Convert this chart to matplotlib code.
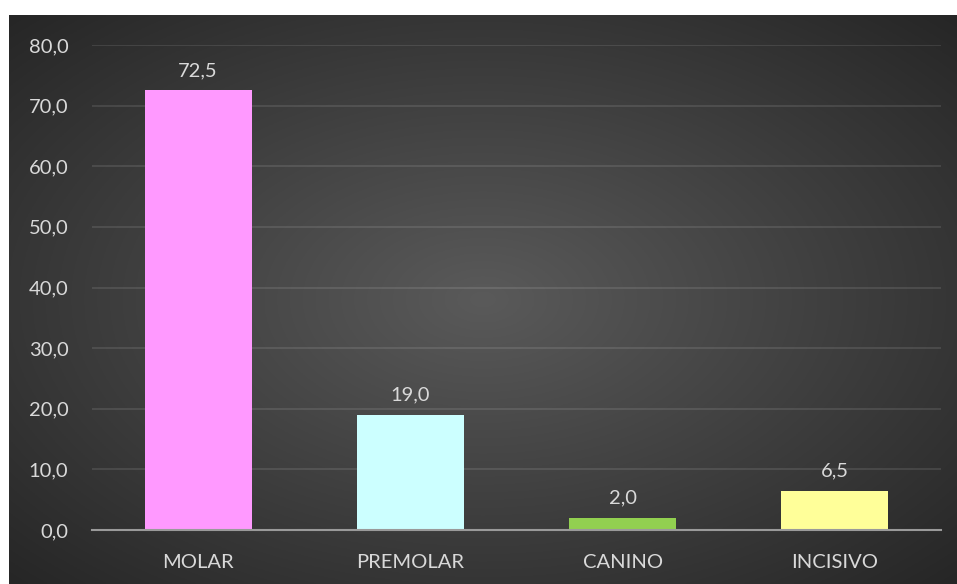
import numpy as np
import matplotlib.pyplot as plt
from matplotlib.ticker import FuncFormatter

categories = ['MOLAR', 'PREMOLAR', 'CANINO', 'INCISIVO']
values = [72.5, 19.0, 2.0, 6.5]
colors = ['#FF99FF', '#CCFFFF', '#92D050', '#FFFF99']
yticks = [0, 10, 20, 30, 40, 50, 60, 70, 80]

plt.rcParams['font.family'] = ['Lato', 'DejaVu Sans']
txt = '#D9D9D9'

W, H = 957, 584
fig = plt.figure(figsize=(W / 100, H / 100), dpi=100, facecolor='white')

# radial gradient background
bg = fig.add_axes([9 / W, 0, 1 - 9 / W, (H - 15) / H])
yy, xx = np.mgrid[0:1:300j, 0:1:500j]
r = np.sqrt(((xx - 0.5) / 0.5) ** 2 + ((yy - 0.5) / 0.5) ** 2)
r = np.clip(r / 1.414, 0, 1)
shade = 0x5a / 255 * (1 - r) + 0x26 / 255 * r
bg.imshow(np.dstack([shade] * 3), aspect='auto', extent=[0, 1, 0, 1])
bg.axis('off')

ax = fig.add_axes([92 / W, 54 / H, (941 - 92) / W, (530 - 45) / H])
ax.patch.set_alpha(0)
x = np.arange(len(categories))
bars = ax.bar(x, values, width=0.505, color=colors, zorder=3)
for b, v in zip(bars, values):
    ax.annotate(f'{v:.1f}'.replace('.', ','), (b.get_x() + b.get_width() / 2, v),
                xytext=(0, 8), textcoords='offset points', ha='center', va='bottom',
                color=txt, fontsize=14.5)

ax.set_xlim(-0.5, len(categories) - 0.5)
ax.set_ylim(0, 80)
ax.set_yticks(yticks)
ax.yaxis.set_major_formatter(FuncFormatter(lambda v, p: f'{v:.1f}'.replace('.', ',')))
ax.set_xticks(x)
ax.set_xticklabels(categories)
ax.tick_params(axis='both', length=0, colors=txt, labelsize=14.5)
ax.tick_params(axis='y', pad=17)
ax.tick_params(axis='x', pad=17)
ax.grid(axis='y', color='white', alpha=0.12, linewidth=1.2, zorder=0)
ax.set_axisbelow(True)
for s in ['top', 'right', 'left']:
    ax.spines[s].set_visible(False)
ax.spines['bottom'].set_color('#9a9a9a')
ax.spines['bottom'].set_linewidth(1.5)
ax.spines['bottom'].set_zorder(4)

fig.savefig('out.png', dpi=100)
